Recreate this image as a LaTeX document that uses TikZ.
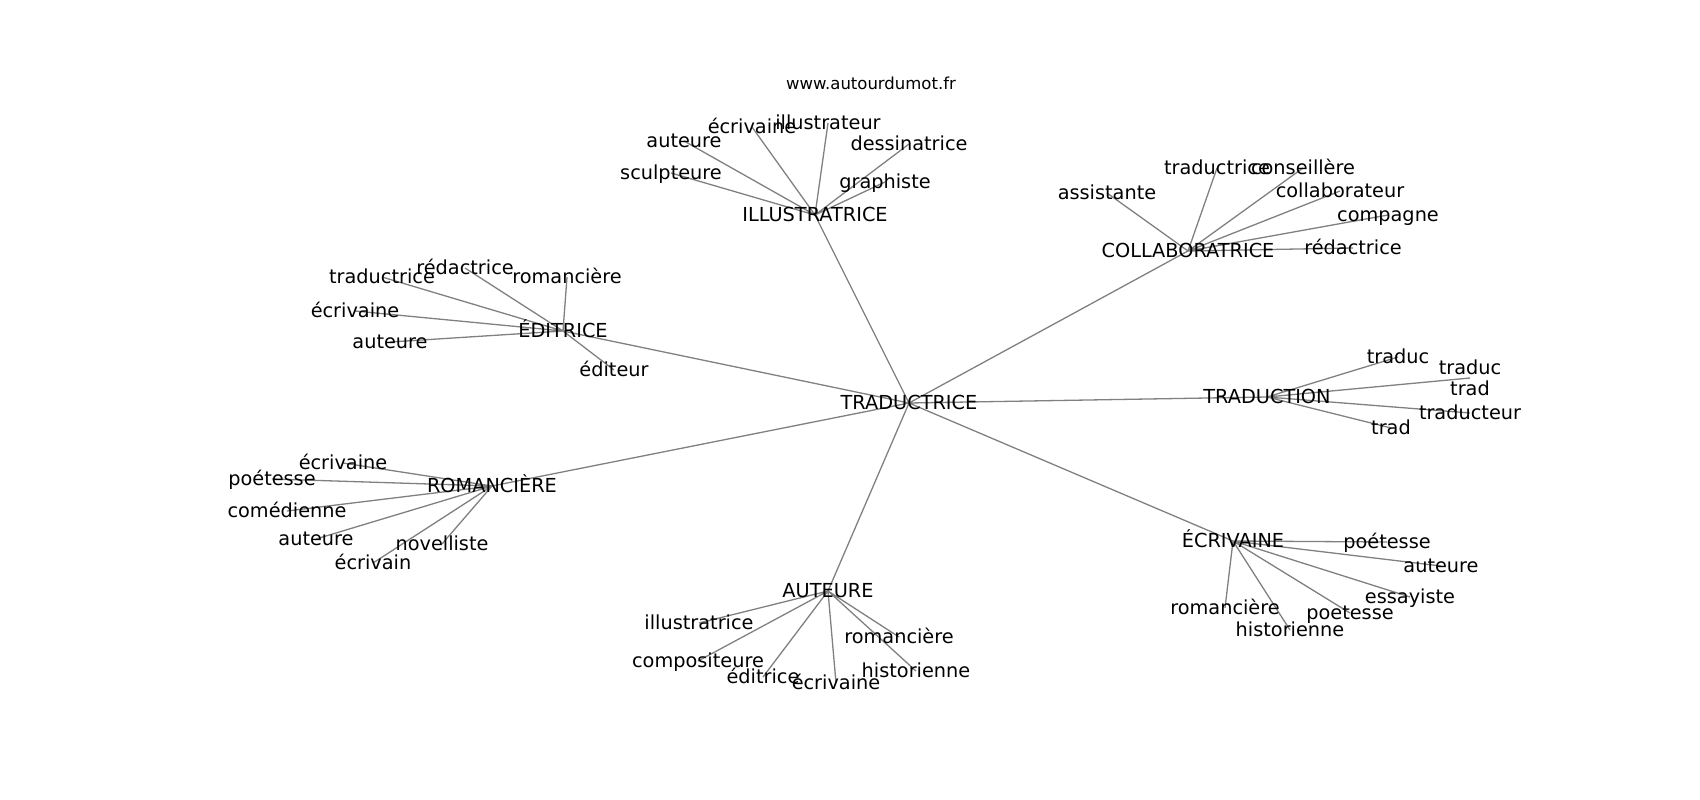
\documentclass[tikz,border=0pt]{standalone}
\usepackage{fontspec}
\setmainfont{DejaVu Sans}
\usetikzlibrary{backgrounds}
\begin{document}
\begin{tikzpicture}[x=1pt,y=-1pt,
		word/.style={font=\fontsize{19.3}{22}\selectfont,inner sep=0pt,text height=14.6pt,text depth=2pt},
		link/.style={draw=black!50,line width=1.3pt}]
		\useasboundingbox (0,0) rectangle (1700,800);
		\node [font=\fontsize{16.5}{19}\selectfont,inner sep=0pt] (title) at (871,83) {www.autourdumot.fr};
		% centre and hubs
		\node [word] (0) at (909,403) {TRADUCTRICE};
		\node [word] (1) at (815,215) {ILLUSTRATRICE};
		\node [word] (2) at (1188,251) {COLLABORATRICE};
		\node [word] (3) at (563,331) {ÉDITRICE};
		\node [word] (4) at (1267,397) {TRADUCTION};
		\node [word] (5) at (492,486) {ROMANCIÈRE};
		\node [word] (6) at (828,591) {AUTEURE};
		\node [word] (7) at (1233,541) {ÉCRIVAINE};
		% ILLUSTRATRICE
		\node [word] (8) at (684,141) {auteure};
		\node [word] (9) at (752,127) {écrivaine};
		\node [word] (10) at (828,123) {illustrateur};
		\node [word] (11) at (909,144) {dessinatrice};
		\node [word] (12) at (671,173) {sculpteure};
		\node [word] (13) at (885,182) {graphiste};
		% COLLABORATRICE
		\node [word] (14) at (1107,193) {assistante};
		\node [word] (15) at (1217,168) {traductrice};
		\node [word] (16) at (1303,168) {conseillère};
		\node [word] (17) at (1340,191) {collaborateur};
		\node [word] (18) at (1388,215) {compagne};
		\node [word] (19) at (1353,248) {rédactrice};
		% EDITRICE
		\node [word] (20) at (382,277) {traductrice};
		\node [word] (21) at (465,268) {rédactrice};
		\node [word] (22) at (567,277) {romancière};
		\node [word] (23) at (355,311) {écrivaine};
		\node [word] (24) at (390,342) {auteure};
		\node [word] (25) at (614,370) {éditeur};
		% TRADUCTION
		\node [word] (26) at (1398,357) {traduc};
		\node [font=\fontsize{19.3}{21}\selectfont,inner sep=0pt,align=center] (27) at (1470,378) {traduc\\trad};
		\node [word] (28) at (1470,413) {traducteur};
		\node [word] (29) at (1391,428) {trad};
		% ROMANCIERE
		\node [word] (30) at (343,463) {écrivaine};
		\node [word] (31) at (272,479) {poétesse};
		\node [word] (32) at (287,511) {comédienne};
		\node [word] (33) at (316,539) {auteure};
		\node [word] (34) at (442,544) {novelliste};
		\node [word] (35) at (373,563) {écrivain};
		% AUTEURE
		\node [word] (36) at (699,623) {illustratrice};
		\node [word] (37) at (698,661) {compositeure};
		\node [word] (38) at (763,677) {éditrice};
		\node [word] (39) at (836,683) {écrivaine};
		\node [word] (40) at (899,637) {romancière};
		\node [word] (41) at (916,671) {historienne};
		% ECRIVAINE
		\node [word] (42) at (1387,542) {poétesse};
		\node [word] (43) at (1441,566) {auteure};
		\node [word] (44) at (1410,597) {essayiste};
		\node [word] (45) at (1350,613) {poetesse};
		\node [word] (46) at (1225,608) {romancière};
		\node [word] (47) at (1290,630) {historienne};
		\begin{scope}[on background layer]
			\draw [link] (0.center) -- (1.center) (0.center) -- (2.center) (0.center) -- (3.center) (0.center) -- (4.center)
				(0.center) -- (5.center) (0.center) -- (6.center) (0.center) -- (7.center);
			\draw [link] (1.center) -- (8.center) (1.center) -- (9.center) (1.center) -- (10.center)
				(1.center) -- (11.center) (1.center) -- (12.center) (1.center) -- (13.center);
			\draw [link] (2.center) -- (14.center) (2.center) -- (15.center) (2.center) -- (16.center)
				(2.center) -- (17.center) (2.center) -- (18.center) (2.center) -- (19.center);
			\draw [link] (3.center) -- (20.center) (3.center) -- (21.center) (3.center) -- (22.center)
				(3.center) -- (23.center) (3.center) -- (24.center) (3.center) -- (25.center);
			\draw [link] (4.center) -- (26.center) (4.center) -- (27.center) (4.center) -- (28.center) (4.center) -- (29.center);
			\draw [link] (5.center) -- (30.center) (5.center) -- (31.center) (5.center) -- (32.center)
				(5.center) -- (33.center) (5.center) -- (34.center) (5.center) -- (35.center);
			\draw [link] (6.center) -- (36.center) (6.center) -- (37.center) (6.center) -- (38.center)
				(6.center) -- (39.center) (6.center) -- (40.center) (6.center) -- (41.center);
			\draw [link] (7.center) -- (42.center) (7.center) -- (43.center) (7.center) -- (44.center)
				(7.center) -- (45.center) (7.center) -- (46.center) (7.center) -- (47.center);
		\end{scope}
	\end{tikzpicture}
\end{document}
